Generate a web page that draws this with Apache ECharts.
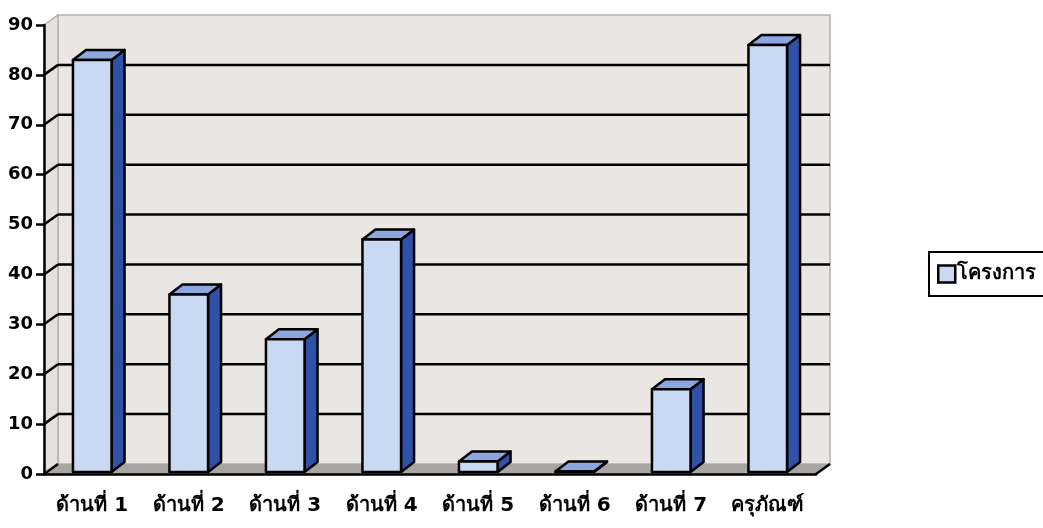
<!DOCTYPE html>
<html>
<head>
<meta charset="utf-8">
<script src="https://cdn.jsdelivr.net/npm/echarts@6/dist/echarts.min.js"></script>
<style>
  html, body { margin: 0; padding: 0; background: #fff; }
  #chart { width: 1043px; height: 528px; }
</style>
</head>
<body>
<div id="chart"></div>
<script>
  var categories = ['ด้านที่ 1', 'ด้านที่ 2', 'ด้านที่ 3', 'ด้านที่ 4', 'ด้านที่ 5', 'ด้านที่ 6', 'ด้านที่ 7', 'ครุภัณฑ์'];
  var values = [83, 36, 27, 47, 2.5, 0.5, 17, 86];
  var yTicks = [0, 10, 20, 30, 40, 50, 60, 70, 80, 90];
  var seriesName = 'โครงการ';

  // depth of the fake 3d box (pixels)
  var DX = 14, DY = -10;
  var font = 'Tahoma, "DejaVu Sans", sans-serif';

  function renderWall(params, api) {
    var cs = params.coordSys;
    var v = api.value(1);
    var y = api.coord([0, v])[1];
    var left = cs.x, right = cs.x + cs.width, bottom = cs.y + cs.height, top = cs.y;
    var kids = [];
    if (params.dataIndex === 0) {
      // back wall
      kids.push({ type: 'rect', shape: { x: left + DX, y: top + DY, width: cs.width, height: cs.height },
        style: { fill: '#e9e6e3', stroke: '#b5b1ad', lineWidth: 1.5 } });
      // left side wall
      kids.push({ type: 'polygon', shape: { points: [[left, top], [left + DX, top + DY], [left + DX, bottom + DY], [left, bottom]] },
        style: { fill: '#e4e1de', stroke: '#b5b1ad', lineWidth: 1.5 } });
      // floor
      kids.push({ type: 'polygon', shape: { points: [[left, bottom], [left + DX, bottom + DY], [right + DX, bottom + DY], [right, bottom]] },
        style: { fill: '#a9a5a2', stroke: null } });
      kids.push({ type: 'line', shape: { x1: right, y1: bottom, x2: right + DX, y2: bottom + DY },
        style: { stroke: '#000', lineWidth: 2.5 } });
    }
    if (v > 0 && v < 90) {
      kids.push({ type: 'line', shape: { x1: left + DX, y1: y + DY, x2: right + DX, y2: y + DY },
        style: { stroke: '#000', lineWidth: 2.5 } });
    }
    if (v < 90) {
      kids.push({ type: 'line', shape: { x1: left, y1: y, x2: left + DX, y2: y + DY },
        style: { stroke: '#000', lineWidth: 2.5 } });
    }
    return { type: 'group', children: kids };
  }

  function renderBar(params, api) {
    var p = api.coord([api.value(0), api.value(1)]);
    var base = api.coord([api.value(0), 0]);
    var bw = api.size([1, 0])[0] * 0.4;
    var x0 = p[0] - bw / 2, x1 = x0 + bw;
    var top = p[1], bot = base[1] - 2;
    var dx = 13, dy = -10;
    var st = { stroke: '#000', lineWidth: 2.5, lineJoin: 'round' };
    return {
      type: 'group',
      children: [
        { type: 'polygon', shape: { points: [[x1, top], [x1 + dx, top + dy], [x1 + dx, bot + dy], [x1, bot]] },
          style: Object.assign({ fill: '#2f52a8' }, st) },
        { type: 'polygon', shape: { points: [[x0, top], [x0 + dx, top + dy], [x1 + dx, top + dy], [x1, top]] },
          style: Object.assign({ fill: '#8ca6df' }, st) },
        { type: 'rect', shape: { x: x0, y: top, width: bw, height: bot - top },
          style: Object.assign({ fill: '#c9d8f3' }, st) }
      ]
    };
  }

  var chart = echarts.init(document.getElementById('chart'));
  chart.setOption({
    animation: false,
    backgroundColor: '#fff',
    grid: { left: 44, top: 25, width: 772, height: 449 },
    legend: {
      left: 929, top: 252,
      selectedMode: false,
      orient: 'vertical',
      padding: [12, 60, 12, 8],
      borderColor: '#000', borderWidth: 2,
      itemWidth: 17, itemHeight: 17, itemGap: 0,
      icon: 'rect',
      itemStyle: { color: '#c9d8f3', borderColor: '#000', borderWidth: 2.5 },
      textStyle: { fontFamily: font, fontSize: 20, fontWeight: 'bold', color: '#000', padding: [0, 0, 0, -3] },
      data: [seriesName]
    },
    xAxis: {
      type: 'category',
      data: categories,
      z: 5,
      axisLine: { lineStyle: { color: '#000', width: 2.5 } },
      axisTick: { length: 9, lineStyle: { color: '#000', width: 2.5 } },
      axisLabel: { margin: 22, fontFamily: font, fontSize: 20, fontWeight: 'bold', color: '#000' },
      splitLine: { show: false }
    },
    yAxis: {
      type: 'value',
      min: 0, max: 90, interval: 10,
      z: 5,
      axisLine: { show: true, lineStyle: { color: '#000', width: 2.5 } },
      axisTick: { show: true, length: 8, lineStyle: { color: '#000', width: 2.5 } },
      axisLabel: { margin: 11, fontFamily: font, fontSize: 18, fontWeight: 'bold', color: '#000' },
      splitLine: { show: false }
    },
    series: [
      {
        type: 'custom',
        name: 'wall',
        z: 1,
        silent: true,
        renderItem: renderWall,
        encode: { x: 0, y: 1 },
        data: yTicks.map(function (v) { return [0, v]; })
      },
      {
        type: 'custom',
        name: seriesName,
        z: 3,
        itemStyle: { color: '#c9d8f3', borderColor: '#000' },
        renderItem: renderBar,
        encode: { x: 0, y: 1 },
        data: values.map(function (v, i) { return [i, v]; })
      }
    ]
  });
  window.addEventListener('resize', function () { chart.resize(); });
</script>
</body>
</html>
